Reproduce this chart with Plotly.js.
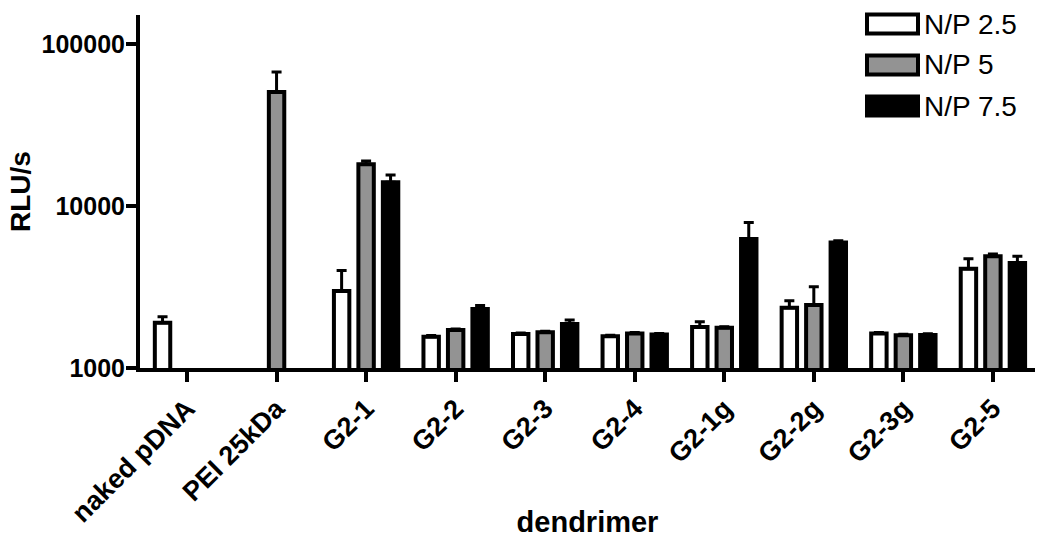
<!DOCTYPE html>
<html>
<head>
<meta charset="utf-8">
<script src="https://cdn.plot.ly/plotly-3.0.1.min.js"></script>
<style>
  html, body { margin: 0; padding: 0; background: #fff; }
  #chart { width: 1050px; height: 538px; }
</style>
</head>
<body>
<div id="chart"></div>
<script>
// ---- data ----
const categories = ["naked pDNA", "PEI 25kDa", "G2-1", "G2-2", "G2-3", "G2-4", "G2-1g", "G2-2g", "G2-3g", "G2-5"];
const seriesNames = ["N/P 2.5", "N/P 5", "N/P 7.5"];

const np25 = [1900, null, 2990, 1560, 1620, 1570, 1790, 2350, 1630, 4100];
const np25Err = [170, null, 1000, 25, 25, 25, 140, 250, 25, 620];

const np5 = [null, 50500, 18100, 1715, 1660, 1630, 1770, 2450, 1590, 4900];
const np5Err = [null, 16500, 800, 25, 25, 25, 30, 720, 25, 150];

const np75 = [null, null, 14000, 2310, 1870, 1610, 6250, 5950, 1600, 4450];
const np75Err = [null, null, 1500, 120, 110, 25, 1650, 150, 25, 450];

const yTickVals = [1000, 10000, 100000];
const yTickText = ["1000", "10000", "100000"];

// ---- styling ----
const fills = ["#ffffff", "#939393", "#000000"];
const values = [np25, np5, np75];
const errs = [np25Err, np5Err, np75Err];

const traces = values.map((v, i) => ({
  type: "bar",
  name: seriesNames[i],
  x: categories,
  y: v,
  marker: { color: fills[i], line: { color: "#000", width: 4 } },
  error_y: {
    type: "data",
    symmetric: false,
    array: errs[i],
    arrayminus: errs[i].map(e => (e === null ? null : 0)),
    color: "#000",
    thickness: 3,
    width: 5
  },
  showlegend: false,
  hoverinfo: "skip"
}));

// plot-area geometry in pixels
const L = 140, R = 1035, T = 15, B = 368;
const px2x = p => (p - L) / (R - L);
const px2y = p => (B - p) / (B - T);

// manual legend (large swatches like the reference)
const legRows = [24, 65, 106];
const shapes = [];
const annotations = [];
seriesNames.forEach((n, i) => {
  shapes.push({
    type: "rect", xref: "paper", yref: "paper",
    x0: px2x(867), x1: px2x(918),
    y0: px2y(legRows[i] + 9.5), y1: px2y(legRows[i] - 9.5),
    fillcolor: fills[i], line: { color: "#000", width: 4 }
  });
  annotations.push({
    xref: "paper", yref: "paper",
    x: px2x(922), y: px2y(legRows[i]),
    xanchor: "left", yanchor: "middle",
    text: n, showarrow: false,
    font: { family: "Liberation Sans, Arial, sans-serif", size: 28, color: "#000" }
  });
});

const layout = {
  width: 1050, height: 538,
  margin: { l: L, r: 1050 - R, t: T, b: 538 - B },
  paper_bgcolor: "#fff", plot_bgcolor: "#fff",
  barmode: "group",
  bargap: 0.18,
  bargroupgap: 0.37,
  font: { family: "Liberation Sans, Arial, sans-serif", color: "#000" },
  xaxis: {
    type: "category",
    range: [-0.525, 9.47],
    showline: true, linecolor: "#000", linewidth: 4,
    ticks: "outside", ticklen: 10, tickwidth: 4, tickcolor: "#000",
    tickangle: -45,
    tickfont: { size: 27, weight: 700, color: "#000" },
    showgrid: false, zeroline: false,
    title: { text: "dendrimer", font: { size: 29, weight: 700 }, standoff: 2 }
  },
  yaxis: {
    type: "log",
    range: [3, 5.178],
    tickvals: yTickVals, ticktext: yTickText,
    showline: true, linecolor: "#000", linewidth: 4,
    ticks: "outside", ticklen: 10, tickwidth: 4, tickcolor: "#000",
    ticklabelstandoff: -4,
    tickfont: { size: 25, weight: 700, color: "#000" },
    showgrid: false, zeroline: false,
    title: { text: "RLU/s", font: { size: 28, weight: 700 }, standoff: 4 }
  },
  shapes: shapes,
  annotations: annotations,
  showlegend: false
};

Plotly.newPlot("chart", traces, layout, { displayModeBar: false, staticPlot: true });
</script>
</body>
</html>
